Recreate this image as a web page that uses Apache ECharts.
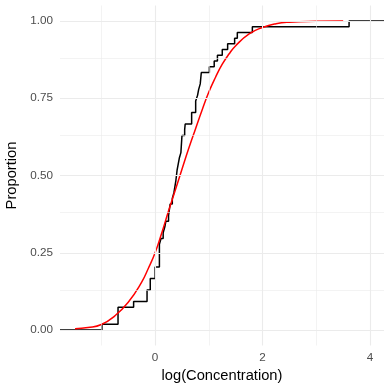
<!DOCTYPE html>
<html>
<head>
<meta charset="utf-8">
<script src="https://cdn.jsdelivr.net/npm/echarts@6/dist/echarts.min.js"></script>
<style>
  html, body { margin: 0; padding: 0; background: #fff; }
  #ecdf-chart { width: 384px; height: 383px; }
</style>
</head>
<body>
<div id="ecdf-chart"></div>
<script>
// log(Concentration) sample values (54 points, ties repeated)
const logConc = [
    -0.99, -0.69, -0.69, -0.69, -0.40, -0.15, -0.15, -0.09, -0.09, 0.00,
    0.00, 0.08, 0.08, 0.08, 0.08, 0.11, 0.15, 0.18, 0.20, 0.25,
    0.28, 0.28, 0.32, 0.35, 0.385, 0.385, 0.41, 0.41, 0.43, 0.45,
    0.48, 0.50, 0.50, 0.50, 0.55, 0.56, 0.68, 0.68, 0.755, 0.755,
    0.79, 0.81, 0.84, 0.85, 0.86, 1.01, 1.10, 1.16, 1.25, 1.35,
    1.48, 1.53, 1.81, 3.61
];

// fitted curve (red)
const fitX = [-1.49, -1.25, -1.0, -0.75, -0.5, -0.25, -0.125, 0.0, 0.125, 0.25,
    0.375, 0.5, 0.625, 0.75, 0.875, 1.0, 1.125, 1.25, 1.375, 1.5,
    1.75, 2.0, 2.25, 2.5, 3.0, 3.5];
const fitY = [0.004, 0.008, 0.018, 0.046, 0.09, 0.155, 0.2, 0.25, 0.315, 0.385,
    0.452, 0.52, 0.587, 0.65, 0.712, 0.77, 0.818, 0.86, 0.893, 0.92,
    0.958, 0.979, 0.991, 0.996, 0.999, 1.0];

const xTicks = [0, 2, 4];
const xMinorTicks = [-1, 1, 3];
const yTicks = [0, 0.25, 0.5, 0.75, 1];
const yMinorTicks = [0.125, 0.375, 0.625, 0.875];

const xMin = -1.77, xMax = 4.26;

function drawEcdfChart() {
    var dom = document.getElementById('ecdf-chart');
    var myChart = echarts.init(dom, null, { renderer: 'canvas' });

    // step points of the ecdf
    var n = logConc.length;
    var ecdf = [[xMin, 0]];
    for (var i = 0; i < n; i++) {
        if (i < n - 1 && logConc[i + 1] === logConc[i]) continue;
        ecdf.push([logConc[i], (i + 1) / n]);
    }
    ecdf.push([xMax, 1]);

    var fit = fitX.map(function (x, i) { return [x, fitY[i]]; });

    var gridLines = [];
    xMinorTicks.forEach(function (v) {
        gridLines.push({ xAxis: v, lineStyle: { color: '#EBEBEB', width: 0.6, type: 'solid' } });
    });
    yMinorTicks.forEach(function (v) {
        gridLines.push({ yAxis: v, lineStyle: { color: '#EBEBEB', width: 0.6, type: 'solid' } });
    });
    xTicks.forEach(function (v) {
        gridLines.push({ xAxis: v, lineStyle: { color: '#EBEBEB', width: 1.1, type: 'solid' } });
    });
    yTicks.forEach(function (v) {
        gridLines.push({ yAxis: v, lineStyle: { color: '#EBEBEB', width: 1.1, type: 'solid' } });
    });

    var axisText = { color: '#4D4D4D', fontSize: 11.7, fontFamily: 'Liberation Sans' };
    var titleText = { color: '#000', fontSize: 14.7, fontFamily: 'Liberation Sans' };

    var option = {
        animation: false,
        grid: {
            left: 60, right: 0, top: 5.5, bottom: 37.5,
            containLabel: false,
            outerBoundsMode: 'none'
        },
        xAxis: {
            type: 'value',
            min: xMin,
            max: xMax,
            name: 'log(Concentration)',
            nameLocation: 'middle',
            nameGap: 22,
            nameTextStyle: titleText,
            axisLine: { show: false },
            axisTick: { show: false, customValues: xTicks },
            splitLine: { show: false },
            axisLabel: Object.assign({ margin: 6, customValues: xTicks }, axisText)
        },
        yAxis: {
            type: 'value',
            min: -0.05,
            max: 1.05,
            name: 'Proportion',
            nameLocation: 'middle',
            nameGap: 37,
            nameTextStyle: titleText,
            axisLine: { show: false },
            axisTick: { show: false, customValues: yTicks },
            splitLine: { show: false },
            axisLabel: Object.assign({
                margin: 7,
                customValues: yTicks,
                formatter: function (v) { return v.toFixed(2); }
            }, axisText)
        },
        series: [
            {
                name: 'grid',
                type: 'line',
                data: [],
                z: 1,
                silent: true,
                markLine: {
                    silent: true,
                    symbol: 'none',
                    label: { show: false },
                    animation: false,
                    data: gridLines
                }
            },
            {
                name: 'ecdf',
                type: 'line',
                step: 'end',
                data: ecdf,
                z: 3,
                showSymbol: false,
                lineStyle: { color: '#000', width: 1.5 }
            },
            {
                name: 'fit',
                type: 'line',
                data: fit,
                z: 4,
                smooth: 0.5,
                showSymbol: false,
                lineStyle: { color: '#FF0000', width: 1.5 }
            }
        ]
    };

    myChart.setOption(option);
    window.addEventListener('resize', myChart.resize);
}

drawEcdfChart();
</script>
</body>
</html>
